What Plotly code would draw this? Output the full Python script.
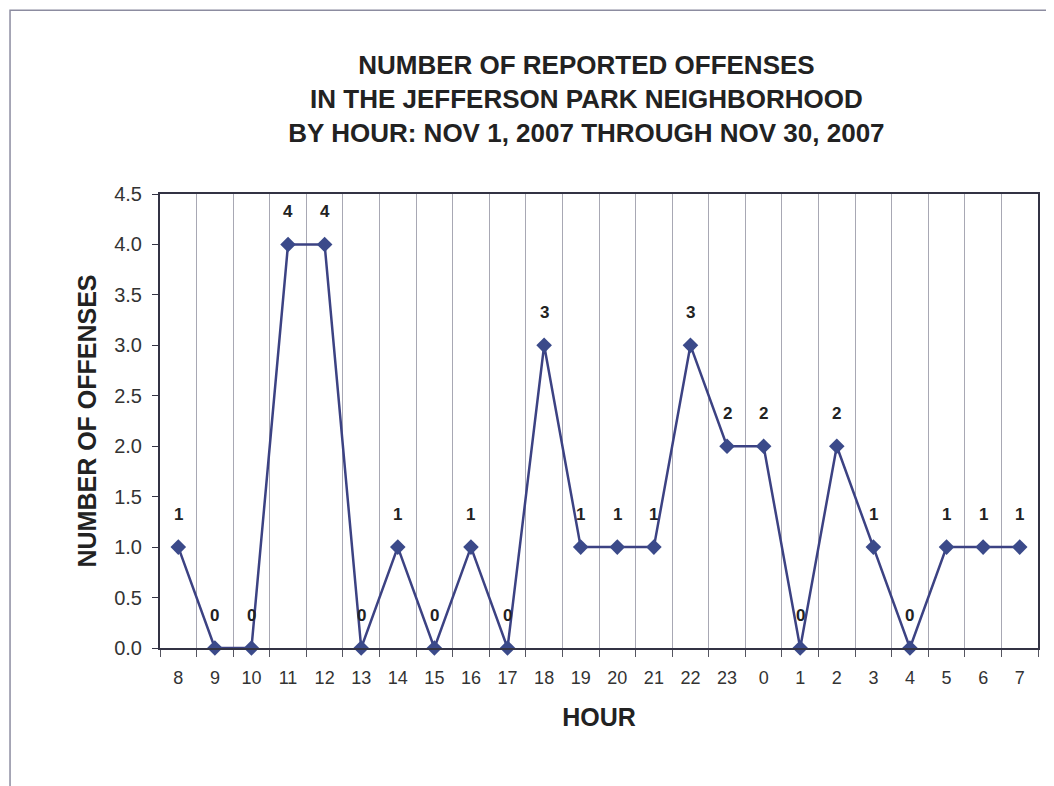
import plotly.graph_objects as go

hours = ["8", "9", "10", "11", "12", "13", "14", "15", "16", "17", "18", "19",
         "20", "21", "22", "23", "0", "1", "2", "3", "4", "5", "6", "7"]
offenses = [1, 0, 0, 4, 4, 0, 1, 0, 1, 0, 3, 1, 1, 1, 3, 2, 2, 0, 2, 1, 0, 1, 1, 1]
y_ticks = [0, 0.5, 1, 1.5, 2, 2.5, 3, 3.5, 4, 4.5]

title_text = ("NUMBER OF REPORTED OFFENSES<br>IN THE JEFFERSON PARK NEIGHBORHOOD"
              "<br>BY HOUR: NOV 1, 2007 THROUGH NOV 30, 2007")

FONT = "Liberation Sans, Arial, sans-serif"
LINE = "#3c4283"

fig = go.Figure()
fig.add_trace(go.Scatter(
    x=hours, y=offenses, mode="lines+markers",
    line=dict(color=LINE, width=2.5),
    marker=dict(symbol="diamond", size=12, color="#3b4a8a"),
    showlegend=False, cliponaxis=False,
))

for i, v in enumerate(offenses):
    fig.add_annotation(x=i, y=v, text=f"<b>{v}</b>", showarrow=False,
                       yshift=33, font=dict(family=FONT, size=17, color="#222222"))

fig.update_layout(
    width=1046, height=778,
    paper_bgcolor="white", plot_bgcolor="white",
    margin=dict(l=152, r=16, t=186, b=138),
    title=dict(text=f"<b>{title_text}</b>", x=0.553, xanchor="center",
               y=0.915, yanchor="middle",
               font=dict(family=FONT, size=26, color="#222222")),
    font=dict(family=FONT, color="#222222"),
    xaxis=dict(
        type="category", tickson="boundaries", categoryorder="array",
        categoryarray=hours, range=[-0.5, 23.5],
        showgrid=True, gridcolor="#a8a8b4", gridwidth=1,
        showline=True, linecolor="#333344", linewidth=2, mirror=True,
        ticks="outside", ticklen=7, tickcolor="#555560",
        tickfont=dict(family=FONT, size=18, color="#333333"),
        ticklabelstandoff=12,
        title=dict(text="<b>HOUR</b>", font=dict(family=FONT, size=25, color="#222222"),
                   standoff=22),
    ),
    yaxis=dict(
        range=[0, 4.5], tickvals=y_ticks, tickformat=".1f",
        showgrid=False, zeroline=False,
        showline=True, linecolor="#333344", linewidth=2, mirror=True,
        ticks="outside", ticklen=6, tickcolor="#333344",
        tickfont=dict(family=FONT, size=20, color="#333333"),
        ticklabelstandoff=6,
        title=dict(text="<b>NUMBER OF OFFENSES</b>",
                   font=dict(family=FONT, size=25, color="#222222"), standoff=10),
    ),
)

fig.add_shape(type="rect", xref="paper", yref="paper",
              x0=-0.1708, x1=1.1, y0=-0.5, y1=1.405,
              line=dict(color="#8c8ca0", width=1.5), layer="below")

fig.write_html("out.html")
